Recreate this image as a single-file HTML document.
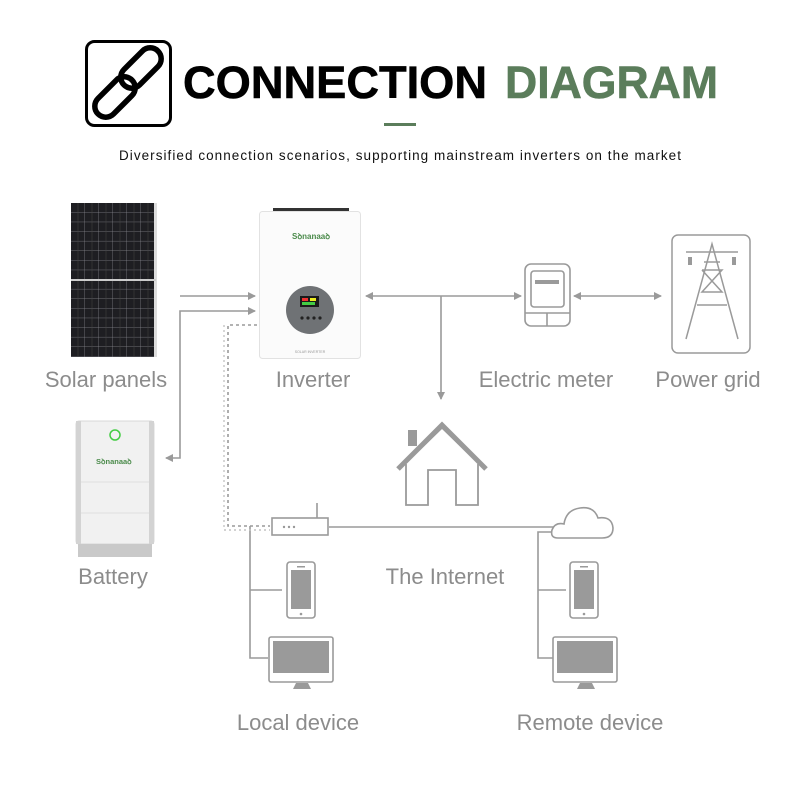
<!DOCTYPE html>
<html><head><meta charset="utf-8"><style>
html,body{margin:0;padding:0;background:#fff;width:800px;height:800px;overflow:hidden}
svg{display:block}
text{font-family:"Liberation Sans",sans-serif}
</style></head><body>
<svg width="800" height="800" viewBox="0 0 800 800" xmlns="http://www.w3.org/2000/svg">
<defs>
<marker id="ar" markerWidth="8" markerHeight="8" refX="7" refY="4" orient="auto-start-reverse" markerUnits="userSpaceOnUse"><path d="M0,0 L8,4 L0,8 Z" fill="#9a9a9a"/></marker>
<pattern id="cells" width="14" height="9.6" patternUnits="userSpaceOnUse" x="71" y="203"><rect width="14" height="9.6" fill="#1e1e22"/><path d="M14 0V9.6M0 9.6H14" stroke="#8a8a90" stroke-width="0.7"/><path d="M7 0V9.6" stroke="#444" stroke-width="0.5"/></pattern>
</defs>
<!-- header -->
<rect x="86.5" y="41.5" width="84" height="84" rx="8" fill="none" stroke="#000" stroke-width="3"/>
<g fill="none" stroke="#000" stroke-width="5.5" stroke-linecap="round">
<rect x="117" y="57" width="48" height="22" rx="11" transform="rotate(-45 141 68)"/>
<rect x="91" y="86" width="48" height="22" rx="11" transform="rotate(-45 115 97)"/>
</g>
<text x="183" y="98" font-size="45" font-weight="bold" fill="#000" stroke="#000" stroke-width="0.6" textLength="304" lengthAdjust="spacingAndGlyphs">CONNECTION</text>
<text x="505" y="98" font-size="45" font-weight="bold" fill="#5b7d5b" stroke="#5b7d5b" stroke-width="0.6" textLength="213" lengthAdjust="spacingAndGlyphs">DIAGRAM</text>
<rect x="384" y="123" width="32" height="3" fill="#5b7d5b"/>
<text x="119" y="160" font-size="13.5" fill="#111" textLength="562" lengthAdjust="spacing">Diversified connection scenarios, supporting mainstream inverters on the market</text>

<!-- solar panel -->
<rect x="71" y="203" width="85" height="154" fill="url(#cells)"/>
<rect x="154" y="203" width="3" height="154" fill="#ddd"/>
<rect x="71" y="279" width="85" height="2" fill="#ccc"/>

<!-- inverter -->
<rect x="273" y="208" width="76" height="3" fill="#333"/>
<rect x="259.5" y="211.5" width="101" height="147" rx="3" fill="#fbfbfb" stroke="#e2e2e2"/>
<text x="292" y="239" font-size="8" fill="#4a8a4a" font-weight="bold">Ѕꝺnanaaꝺ</text>
<circle cx="310" cy="310" r="24" fill="#6f7275"/>
<rect x="300" y="296" width="19" height="11" fill="#1a1a1a"/>
<rect x="302" y="298" width="6" height="3" fill="#e33"/><rect x="310" y="298" width="6" height="3" fill="#ee2"/><rect x="302" y="302" width="13" height="3" fill="#4c4"/>
<g fill="#222"><circle cx="302" cy="318" r="1.6"/><circle cx="308" cy="318" r="1.6"/><circle cx="314" cy="318" r="1.6"/><circle cx="320" cy="318" r="1.6"/></g>
<text x="310" y="353" font-size="3.5" fill="#999" text-anchor="middle">SOLAR INVERTER</text>

<!-- battery -->
<rect x="76" y="421" width="78" height="123" rx="3" fill="#f1f1f1" stroke="#d8d8d8"/>
<rect x="76" y="421" width="5" height="123" fill="#d3d3d3"/><rect x="149" y="421" width="5" height="123" fill="#d3d3d3"/>
<line x1="81" y1="482" x2="149" y2="482" stroke="#e0e0e0"/><line x1="81" y1="513" x2="149" y2="513" stroke="#e0e0e0"/>
<rect x="78" y="544" width="74" height="13" fill="#c9c9c9"/>
<circle cx="115" cy="435" r="5" fill="none" stroke="#4c4" stroke-width="1.5"/>
<text x="96" y="464" font-size="7.5" fill="#4a8a4a" font-weight="bold">Ѕꝺnanaaꝺ</text>

<!-- connectors -->
<g stroke="#9a9a9a" stroke-width="1.6" fill="none">
<line x1="180" y1="296" x2="255" y2="296" marker-end="url(#ar)"/>
<polyline points="166,458 180,458 180,311 255,311" marker-start="url(#ar)" marker-end="url(#ar)"/>
<line x1="366" y1="296" x2="521" y2="296" marker-start="url(#ar)" marker-end="url(#ar)"/>
<line x1="441" y1="296" x2="441" y2="399" marker-end="url(#ar)"/>
<line x1="574" y1="296" x2="661" y2="296" marker-start="url(#ar)" marker-end="url(#ar)"/>
<polyline points="257,325 228,325 228,526 270,526" stroke-dasharray="3,3"/>
<polyline points="250,526 250,658 268,658"/><line x1="250" y1="590" x2="282" y2="590"/>
<line x1="329" y1="527" x2="556" y2="527"/>
<line x1="317" y1="503" x2="317" y2="518"/>
<polyline points="558,532 538,532 538,658 553,658"/><line x1="538" y1="590" x2="566" y2="590"/>
</g>
<g stroke="#c4c4c4" stroke-width="1.4" fill="none"><polyline points="224,325 224,530 270,530" stroke-dasharray="2,3"/></g>

<!-- router -->
<rect x="272" y="518" width="56" height="17" fill="#fff" stroke="#9a9a9a" stroke-width="1.6"/>
<g fill="#999"><circle cx="284" cy="527" r="1.2"/><circle cx="289" cy="527" r="1.2"/><circle cx="294" cy="527" r="1.2"/></g>
<!-- cloud -->
<path d="M558,538 Q550,538 552,530 Q555,522 564,524 Q566,510 580,508 Q594,506 598,518 Q612,516 613,528 Q613,538 602,538 Z" fill="#fff" stroke="#9a9a9a" stroke-width="1.6"/>

<!-- phones & monitors -->
<g stroke="#9a9a9a" stroke-width="1.6">
<rect x="287" y="562" width="28" height="56" rx="3" fill="#fff"/><rect x="291" y="570" width="20" height="39" fill="#9a9a9a" stroke="none"/>
<rect x="269" y="637" width="64" height="45" rx="2" fill="#fff"/><rect x="273" y="641" width="56" height="32" fill="#9a9a9a" stroke="none"/>
<rect x="570" y="562" width="28" height="56" rx="3" fill="#fff"/><rect x="574" y="570" width="20" height="39" fill="#9a9a9a" stroke="none"/>
<rect x="553" y="637" width="64" height="45" rx="2" fill="#fff"/><rect x="557" y="641" width="56" height="32" fill="#9a9a9a" stroke="none"/>
</g>
<g fill="#9a9a9a"><rect x="297" y="566" width="8" height="1.5"/><circle cx="301" cy="614" r="1.3"/><rect x="580" y="566" width="8" height="1.5"/><circle cx="584" cy="614" r="1.3"/>
<path d="M296,683 h12 l3,6 h-18z"/><path d="M580,683 h12 l3,6 h-18z"/></g>

<!-- meter -->
<g stroke="#9a9a9a" stroke-width="1.6" fill="#fff">
<rect x="525" y="264" width="45" height="62" rx="6"/>
<rect x="531" y="271" width="33" height="36" rx="3"/>
<line x1="525" y1="313" x2="570" y2="313"/><line x1="547" y1="313" x2="547" y2="326"/>
</g>
<rect x="535" y="280" width="24" height="4" fill="#9a9a9a"/>

<!-- power grid -->
<g stroke="#9a9a9a" stroke-width="1.5" fill="none">
<rect x="672" y="235" width="78" height="118" rx="6"/>
<line x1="686" y1="252" x2="738" y2="252"/>
<polyline points="686,339 712,244 738,339"/>
<polyline points="702,270 722,270 702,292 722,292 702,270"/>
<line x1="697" y1="305" x2="727" y2="305"/>
<line x1="704" y1="262" x2="720" y2="262"/>
</g>
<g fill="#9a9a9a"><rect x="688" y="257" width="4" height="8"/><rect x="732" y="257" width="4" height="8"/></g>

<!-- house -->
<g stroke="#9a9a9a" fill="none">
<polyline points="398,469 442,425 486,469" stroke-width="5"/>
<polyline points="406,464 406,505 428,505 428,470 456,470 456,505 478,505 478,464" stroke-width="1.8"/>
<polyline points="410,459 442,428 474,459" stroke-width="1.5"/>
</g>
<rect x="408" y="430" width="9" height="16" fill="#9a9a9a"/>

<!-- labels -->
<g font-size="22" fill="#8c8c8c" text-anchor="middle">
<text x="106" y="387">Solar panels</text>
<text x="313" y="387">Inverter</text>
<text x="546" y="387">Electric meter</text>
<text x="708" y="387">Power grid</text>
<text x="113" y="584">Battery</text>
<text x="445" y="584">The Internet</text>
<text x="298" y="730">Local device</text>
<text x="590" y="730">Remote device</text>
</g>
</svg>
</body></html>
